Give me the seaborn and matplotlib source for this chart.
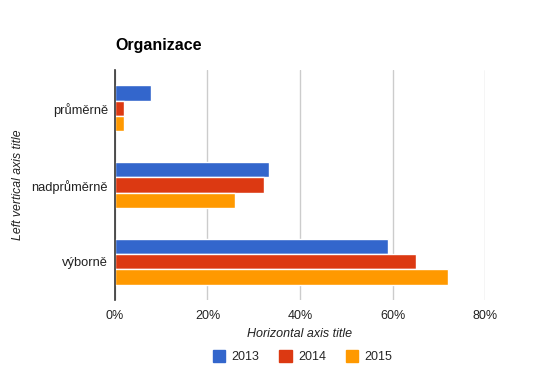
#Grouped horizontal bars: Organizace

import pandas as pd
import matplotlib
matplotlib.use('Agg')
import matplotlib.pyplot as plt
import seaborn as sns
from matplotlib.ticker import PercentFormatter

#data
categories = ['průměrně', 'nadprůměrně', 'výborně']
years = ['2013', '2014', '2015']
v2013 = [7.7, 33.2, 59.0]
v2014 = [1.9, 32.3, 65.0]
v2015 = [1.9, 25.9, 71.9]
colors = ['#3366cc', '#dc3912', '#ff9900']

df = pd.DataFrame({
    'kategorie': categories * 3,
    'rok': [y for y in years for _ in categories],
    'hodnota': v2013 + v2014 + v2015,
})

sns.set_style('white')
plt.rcParams['font.family'] = ['Liberation Sans', 'DejaVu Sans']

fig = plt.figure(figsize=(5.5, 3.71), dpi=100)
ax = fig.add_axes([0.209, 0.191, 0.673, 0.620])

sns.barplot(data=df, y='kategorie', x='hodnota', hue='rok', order=categories,
            hue_order=years, palette=colors, orient='h', width=0.6,
            edgecolor='white', linewidth=1, saturation=1, ax=ax, legend=True)

ax.set_xlim(0, 80)
ax.set_ylim(2.5, -0.5)
ax.set_xticks([0, 20, 40, 60, 80])
ax.xaxis.set_major_formatter(PercentFormatter(decimals=0))
ax.grid(axis='x', color='#cccccc', linewidth=1)
ax.set_axisbelow(True)
for s in ['top', 'right', 'bottom']:
    ax.spines[s].set_visible(False)
ax.spines['left'].set_color('#333333')
ax.spines['left'].set_linewidth(1.2)
ax.tick_params(length=0, labelsize=9, colors='#222222')
ax.tick_params(axis='x', pad=7)
ax.tick_params(axis='y', pad=5, labelsize=9.3)

ax.set_xlabel('Horizontal axis title', fontstyle='italic', fontsize=9,
              color='#222222')
ax.xaxis.set_label_coords(0.5, -0.123)
ax.set_ylabel('Left vertical axis title', fontstyle='italic', fontsize=8.8,
              color='#222222')
ax.yaxis.set_label_coords(-0.245, 0.5)
fig.text(0.209, 0.865, 'Organizace', fontsize=11.5, fontweight='bold',
         color='#000000', va='baseline')

ax.legend_.remove()
handles = [plt.Rectangle((0, 0), 1, 1, color=c) for c in colors]
fig.legend(handles, years, loc='center', bbox_to_anchor=(0.55, 0.038), ncol=3,
           frameon=False, fontsize=9, handlelength=1.0, handleheight=1.0,
           columnspacing=1.6, handletextpad=0.5)

fig.savefig('out.png', dpi=100)
